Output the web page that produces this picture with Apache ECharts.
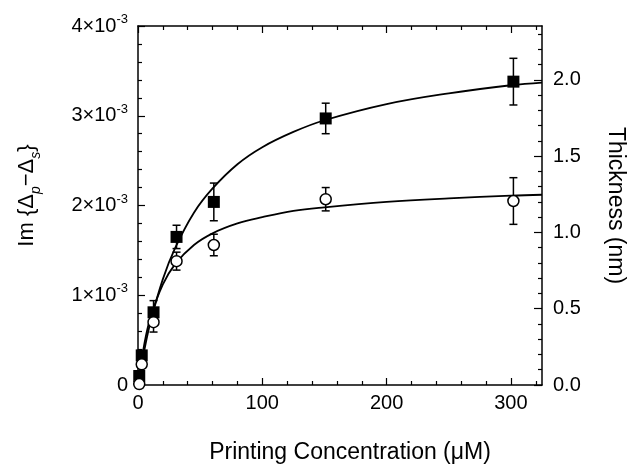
<!DOCTYPE html>
<html>
<head>
<meta charset="utf-8">
<script src="https://cdn.jsdelivr.net/npm/echarts@6/dist/echarts.min.js"></script>
<style>html,body{margin:0;background:#fff}#chart{width:630px;height:466px}</style>
</head>
<body>
<div id="chart"></div>
<script>
// printing concentration (uM)
var conc = [1, 3, 12.5, 31, 61, 151, 302];
// Im{Dp-Ds} in units of 1e-3
var squareIm = [0.10, 0.33, 0.81, 1.65, 2.04, 2.97, 3.38];
var squareErr = [0, 0, 0.13, 0.13, 0.21, 0.17, 0.26];
var circleIm = [0.01, 0.23, 0.70, 1.38, 1.56, 2.07, 2.05];
var circleErr = [0, 0, 0.11, 0.10, 0.12, 0.13, 0.26];
// fitted curves
var fitX = [0, 5, 10, 20, 30, 45, 60, 80, 100, 125, 150, 200, 250, 300, 325];
var squareFit = [0, 0.38, 0.70, 1.18, 1.53, 1.92, 2.19, 2.46, 2.65, 2.82, 2.95, 3.13, 3.25, 3.34, 3.37];
var circleFit = [0, 0.45, 0.75, 1.12, 1.35, 1.56, 1.69, 1.80, 1.87, 1.94, 1.98, 2.04, 2.08, 2.11, 2.12];
// ticks
var xTicks = [0, 100, 200, 300];
var xMinor = [20, 40, 60, 80, 120, 140, 160, 180, 220, 240, 260, 280, 320];
var imTicks = [0, 1, 2, 3, 4];
var imMinor = [0.2, 0.4, 0.6, 0.8, 1.2, 1.4, 1.6, 1.8, 2.2, 2.4, 2.6, 2.8, 3.2, 3.4, 3.6, 3.8];
var thTicks = [0, 0.5, 1, 1.5, 2];
var thLabels = ['0.0', '0.5', '1.0', '1.5', '2.0'];
var thMinor = [0.1, 0.2, 0.3, 0.4, 0.6, 0.7, 0.8, 0.9, 1.1, 1.2, 1.3, 1.4, 1.6, 1.7, 1.8, 1.9, 2.1, 2.2, 2.3];
var imPerNm = 1.7; // 1 nm thickness ~ 1.7e-3

var myChart = echarts.init(document.getElementById('chart'));
var font = 'Liberation Sans, Arial, sans-serif';

function pairs(xs, ys) {
  return xs.map(function (x, i) { return [x, ys[i]]; });
}
function errData(ys, es) {
  return conc.map(function (x, i) { return [x, ys[i], es[i]]; });
}

function majorAxis(extra) {
  var o = {
    axisLine: { show: true, onZero: false, lineStyle: { color: '#000', width: 1.5 } },
    axisTick: { show: true, inside: true, length: 7, lineStyle: { color: '#000', width: 1.2 } },
    axisLabel: { show: false },
    splitLine: { show: false }
  };
  return echarts.util.merge(o, extra, true);
}
function minorAxis(extra) {
  var o = {
    axisLine: { show: false, onZero: false },
    axisTick: { show: true, inside: true, length: 4, lineStyle: { color: '#000', width: 1.2 } },
    axisLabel: { show: false },
    splitLine: { show: false }
  };
  return echarts.util.merge(o, extra, true);
}

var xMax = 325, imMax = 4, thMax = imMax / imPerNm;

var option = {
  backgroundColor: '#fff',
  animation: false,
  grid: { left: 138, right: 88, top: 26, bottom: 81, containLabel: false, outerBoundsMode: 'none' },
  xAxis: [
    majorAxis({
      type: 'value', position: 'bottom', min: 0, max: xMax,
      axisTick: { customValues: xTicks },
      axisLabel: { show: true, customValues: xTicks, margin: 8, color: '#000', fontSize: 20, fontFamily: font },
      name: 'Printing Concentration (\u03bcM)', nameLocation: 'middle', nameGap: 56,
      nameTextStyle: { color: '#000', fontSize: 23, fontFamily: font, padding: [0, 0, 0, 20] }
    }),
    minorAxis({ type: 'value', position: 'bottom', min: 0, max: xMax, axisTick: { customValues: xMinor } }),
    majorAxis({ type: 'value', position: 'top', min: 0, max: xMax, axisTick: { customValues: xTicks } }),
    minorAxis({ type: 'value', position: 'top', min: 0, max: xMax, axisTick: { customValues: xMinor } })
  ],
  yAxis: [
    majorAxis({
      type: 'value', position: 'left', min: 0, max: imMax,
      axisTick: { customValues: imTicks },
      axisLabel: {
        show: true, customValues: imTicks, margin: 10, color: '#000', fontSize: 20, fontFamily: font,
        formatter: function (v) {
          if (v === 0) return '{m|0}';
          return '{m|' + v + '\u00d710}{s|-3}';
        },
        rich: {
          m: { fontSize: 20, fontFamily: font, color: '#000', lineHeight: 26 },
          s: { fontSize: 13, fontFamily: font, color: '#000', lineHeight: 26, verticalAlign: 'top' }
        }
      },
      name: 'Im {\u0394{p|p}\u2212\u0394{p|s}}', nameLocation: 'middle', nameRotate: 90, nameGap: 95,
      nameTextStyle: {
        color: '#000', fontSize: 22, fontFamily: font, lineHeight: 32, padding: [0, 0, 0, 20],
        rich: { p: { fontSize: 14, fontStyle: 'italic', fontFamily: font, color: '#000', lineHeight: 32, verticalAlign: 'bottom' } }
      }
    }),
    minorAxis({ type: 'value', position: 'left', min: 0, max: imMax, axisTick: { customValues: imMinor } }),
    majorAxis({
      type: 'value', position: 'right', min: 0, max: thMax,
      axisTick: { customValues: thTicks, length: 8 },
      axisLabel: {
        show: true, customValues: thTicks, margin: 11, color: '#000', fontSize: 20, fontFamily: font,
        formatter: function (v) { return thLabels[thTicks.indexOf(v)]; }
      },
      name: 'Thickness (nm)', nameLocation: 'middle', nameRotate: -90, nameGap: 62,
      nameTextStyle: { color: '#000', fontSize: 23, fontFamily: font }
    }),
    minorAxis({ type: 'value', position: 'right', min: 0, max: thMax, axisTick: { customValues: thMinor } })
  ],
  series: [
    {
      type: 'line', data: pairs(fitX, squareFit), showSymbol: false, symbol: 'none',
      smooth: 0.4, lineStyle: { color: '#000', width: 1.8 }, z: 2
    },
    {
      type: 'line', data: pairs(fitX, circleFit), showSymbol: false, symbol: 'none',
      smooth: 0.4, lineStyle: { color: '#000', width: 1.8 }, z: 2
    },
    {
      type: 'custom', z: 3,
      data: errData(squareIm, squareErr).concat(errData(circleIm, circleErr)),
      renderItem: function (params, api) {
        var x = api.value(0), y = api.value(1), e = api.value(2);
        if (!e) return;
        var top = api.coord([x, y + e]);
        var bot = api.coord([x, y - e]);
        var w = 4;
        var st = { stroke: '#000', lineWidth: 1.5 };
        return {
          type: 'group',
          children: [
            { type: 'line', shape: { x1: top[0], y1: top[1], x2: bot[0], y2: bot[1] }, style: st },
            { type: 'line', shape: { x1: top[0] - w, y1: top[1], x2: top[0] + w, y2: top[1] }, style: st },
            { type: 'line', shape: { x1: bot[0] - w, y1: bot[1], x2: bot[0] + w, y2: bot[1] }, style: st }
          ]
        };
      }
    },
    {
      type: 'scatter', data: pairs(conc, squareIm), symbol: 'rect', symbolSize: 12,
      itemStyle: { color: '#000', opacity: 1 }, z: 4, clip: false
    },
    {
      type: 'scatter', data: pairs(conc, circleIm), symbol: 'circle', symbolSize: 11,
      itemStyle: { color: '#fff', borderColor: '#000', borderWidth: 1.5, opacity: 1 }, z: 5, clip: false
    }
  ]
};

myChart.setOption(option);
</script>
</body>
</html>
